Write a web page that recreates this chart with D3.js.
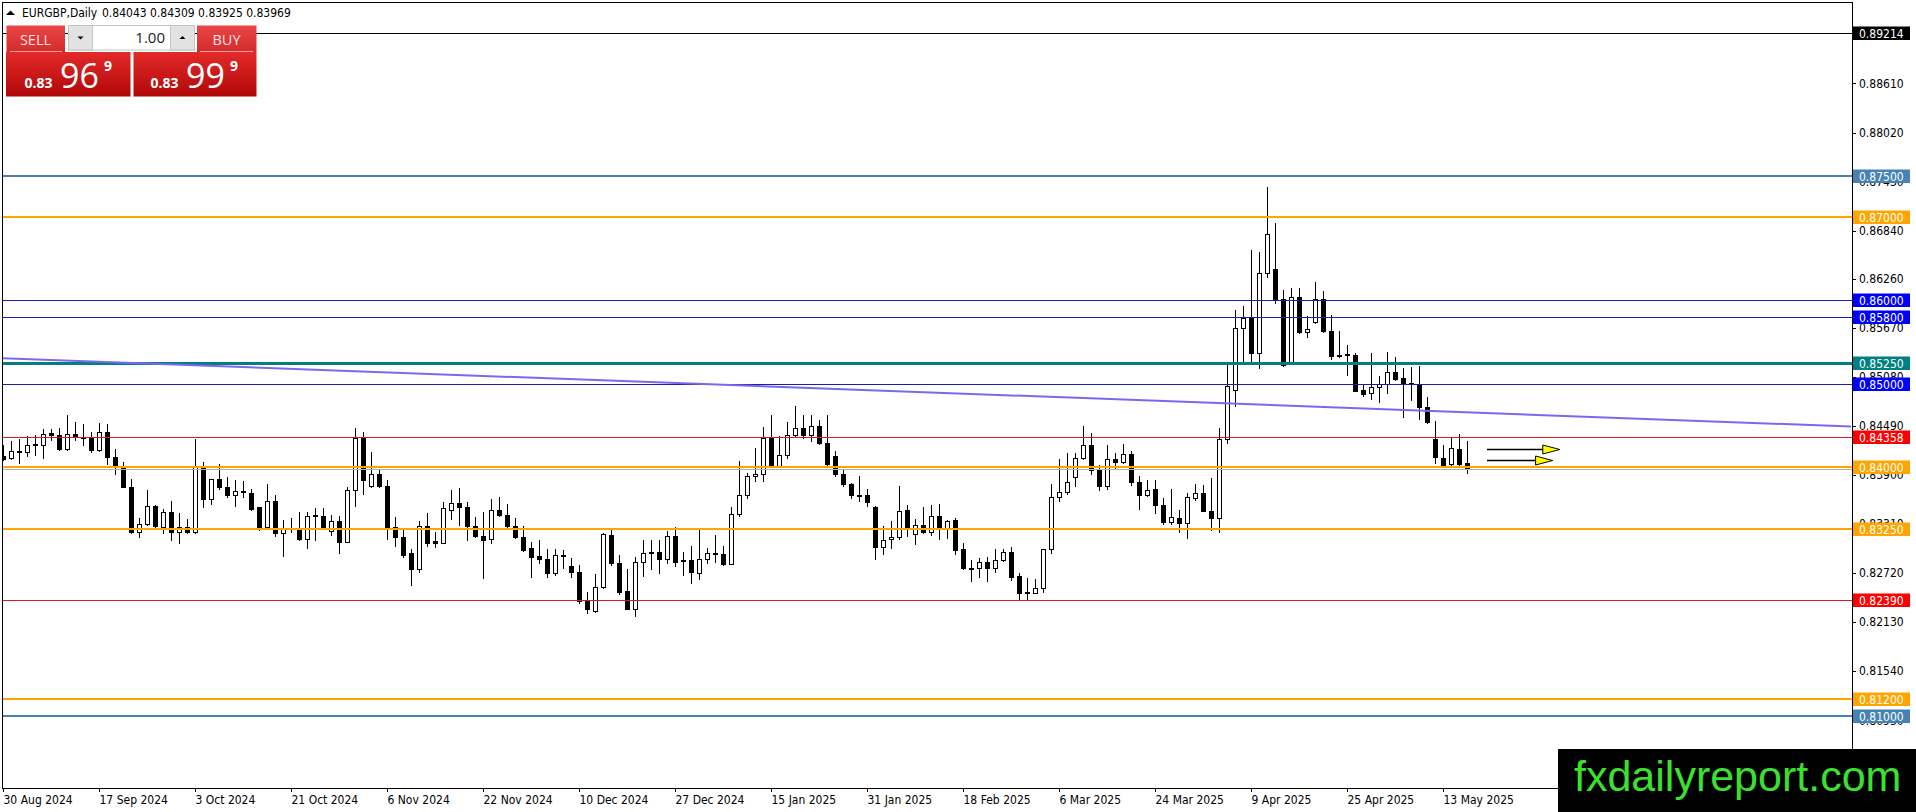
<!DOCTYPE html>
<html>
<head>
<meta charset="utf-8">
<script src="https://cdn.jsdelivr.net/npm/d3@7"></script>
<style>
body { margin: 0; background: #fff; overflow: hidden; }
svg { display: block; }
</style>
</head>
<body>
<svg id="chart"></svg>
<script>
// EURGBP daily bars, 30 Aug 2024 .. 16 May 2025
var opens = [
  0.84125,0.84100,0.84193,0.84177,0.84257,0.84257,0.84402,0.84382,0.84213,0.84394,
  0.84354,0.84358,0.84197,0.84418,0.84117,0.84004,0.83755,0.83212,0.83313,0.83522,
  0.83272,0.83453,0.83212,0.83268,0.83212,0.84004,0.83610,0.83851,0.83755,0.83658,
  0.83711,0.83682,0.83510,0.83268,0.83590,0.83200,0.83264,0.83248,0.83128,0.83413,
  0.83409,0.83228,0.83341,0.83092,0.83719,0.84346,0.83767,0.83916,0.83767,0.83268,
  0.83152,0.82959,0.82766,0.83292,0.83100,0.83087,0.83477,0.83562,0.83514,0.83292,
  0.83168,0.83128,0.83477,0.83417,0.83292,0.83152,0.83019,0.82927,0.82886,0.82718,
  0.82939,0.82806,0.82734,0.82388,0.82267,0.82549,0.83172,0.82838,0.82505,0.82292,
  0.82850,0.82971,0.82971,0.82894,0.83168,0.82878,0.82874,0.82726,0.82886,0.82959,
  0.82951,0.82830,0.83429,0.83658,0.83883,0.83916,0.84350,0.84012,0.84141,0.84382,
  0.84466,0.84382,0.84494,0.84285,0.84133,0.83916,0.83795,0.83662,0.83658,0.83514,
  0.83039,0.83128,0.83156,0.83481,0.83188,0.83297,0.83212,0.83409,0.83260,0.83353,
  0.83011,0.82782,0.82778,0.82850,0.82786,0.82874,0.82971,0.82685,0.82488,0.82484,
  0.82537,0.83007,0.83634,0.83694,0.83875,0.84105,0.84261,0.83964,0.83763,0.84096,
  0.84056,0.84157,0.83815,0.83654,0.83731,0.83538,0.83329,0.83378,0.83317,0.83618,
  0.83686,0.83470,0.83378,0.84328,0.84921,0.85671,0.85792,0.85363,0.86325,0.86377,
  0.86012,0.85250,0.86044,0.85615,0.85735,0.86012,0.85635,0.85343,0.85351,0.85338,
  0.84921,0.84881,0.84961,0.84998,0.85142,0.85062,0.85002,0.84994,0.84721,0.84328,
  0.84099,0.84027,0.84208,0.84043];
var highs = [
  0.84265,0.84310,0.84334,0.84366,0.84386,0.84458,0.84454,0.84466,0.84627,0.84535,
  0.84515,0.84414,0.84527,0.84515,0.84213,0.84060,0.83851,0.83381,0.83715,0.83538,
  0.83485,0.83590,0.83441,0.83373,0.84338,0.84052,0.83855,0.84032,0.83875,0.83835,
  0.83823,0.83731,0.83518,0.83795,0.83658,0.83353,0.83385,0.83453,0.83449,0.83502,
  0.83502,0.83421,0.83401,0.83755,0.84466,0.84422,0.84181,0.83964,0.83843,0.83389,
  0.83240,0.83007,0.83341,0.83441,0.83208,0.83570,0.83723,0.83743,0.83574,0.83393,
  0.83453,0.83610,0.83634,0.83545,0.83381,0.83288,0.83092,0.83120,0.83007,0.83007,
  0.82999,0.82899,0.82818,0.82497,0.82710,0.83200,0.83260,0.82939,0.82770,0.82919,
  0.83120,0.83120,0.83120,0.83228,0.83272,0.82971,0.83051,0.83248,0.83019,0.83172,
  0.83051,0.83510,0.84064,0.83924,0.84225,0.84478,0.84619,0.84374,0.84535,0.84728,
  0.84619,0.84627,0.84567,0.84619,0.84193,0.83964,0.83803,0.83891,0.83735,0.83522,
  0.83280,0.83349,0.83771,0.83538,0.83369,0.83514,0.83538,0.83550,0.83361,0.83381,
  0.83079,0.82878,0.82899,0.82919,0.83007,0.83011,0.83039,0.82726,0.82657,0.82645,
  0.83015,0.83795,0.84092,0.84165,0.84165,0.84486,0.84406,0.84020,0.84261,0.84165,
  0.84277,0.84185,0.83883,0.83843,0.83835,0.83622,0.83731,0.83478,0.83686,0.83787,
  0.83779,0.83859,0.84460,0.85222,0.85884,0.85932,0.86606,0.86578,0.87368,0.86934,
  0.86124,0.86144,0.86144,0.85812,0.86217,0.86112,0.85824,0.85635,0.85463,0.85363,
  0.84982,0.85371,0.85090,0.85383,0.85316,0.85182,0.85202,0.85210,0.84841,0.84553,
  0.84256,0.84344,0.84388,0.84309];
var lows = [
  0.84084,0.84092,0.84044,0.84125,0.84145,0.84105,0.84318,0.84205,0.84197,0.84326,
  0.84265,0.84173,0.84185,0.84036,0.83916,0.83750,0.83200,0.83152,0.83301,0.83260,
  0.83200,0.83120,0.83087,0.83200,0.83204,0.83514,0.83546,0.83731,0.83634,0.83522,
  0.83630,0.83473,0.83240,0.83264,0.83160,0.82931,0.83208,0.83120,0.83019,0.83120,
  0.83260,0.83180,0.82967,0.83088,0.83522,0.83674,0.83755,0.83755,0.83128,0.83051,
  0.82911,0.82577,0.82738,0.83047,0.83039,0.83087,0.83373,0.83301,0.83120,0.83152,
  0.82665,0.83079,0.83401,0.83272,0.83140,0.82991,0.82677,0.82838,0.82677,0.82698,
  0.82778,0.82677,0.82364,0.82235,0.82255,0.82537,0.82818,0.82468,0.82283,0.82207,
  0.82690,0.82766,0.82726,0.82846,0.82806,0.82698,0.82605,0.82649,0.82838,0.82858,
  0.82818,0.82826,0.83401,0.83622,0.83823,0.83823,0.84008,0.84008,0.84105,0.84366,
  0.84346,0.84306,0.84277,0.84012,0.83891,0.83771,0.83618,0.83582,0.83522,0.82894,
  0.82955,0.83019,0.83128,0.83168,0.83071,0.83200,0.83180,0.83128,0.83140,0.82951,
  0.82770,0.82629,0.82677,0.82629,0.82738,0.82870,0.82637,0.82396,0.82396,0.82476,
  0.82492,0.82967,0.83582,0.83674,0.83763,0.84092,0.83916,0.83723,0.83731,0.83972,
  0.84044,0.83783,0.83490,0.83650,0.83441,0.83313,0.83305,0.83217,0.83137,0.83598,
  0.83466,0.83237,0.83217,0.84280,0.84729,0.85274,0.85274,0.85182,0.86277,0.85964,
  0.85210,0.85242,0.85603,0.85563,0.85723,0.85623,0.85290,0.85316,0.85102,0.84909,
  0.84853,0.84809,0.84781,0.84881,0.85042,0.84601,0.84801,0.84569,0.84520,0.84039,
  0.84007,0.84019,0.84019,0.83925];
var closes = [
  0.84092,0.84189,0.84177,0.84265,0.84273,0.84394,0.84382,0.84213,0.84394,0.84354,
  0.84342,0.84197,0.84418,0.84117,0.84020,0.83755,0.83208,0.83309,0.83522,0.83280,
  0.83453,0.83212,0.83268,0.83208,0.84004,0.83610,0.83851,0.83751,0.83654,0.83707,
  0.83698,0.83494,0.83268,0.83590,0.83200,0.83248,0.83256,0.83128,0.83409,0.83401,
  0.83268,0.83341,0.83092,0.83719,0.84346,0.83835,0.83916,0.83767,0.83260,0.83152,
  0.82939,0.82766,0.83292,0.83087,0.83087,0.83502,0.83562,0.83514,0.83288,0.83160,
  0.83120,0.83477,0.83413,0.83292,0.83148,0.83003,0.82919,0.82886,0.82718,0.82939,
  0.82927,0.82730,0.82388,0.82283,0.82549,0.83192,0.82838,0.82488,0.82292,0.82850,
  0.82959,0.82959,0.82894,0.83160,0.82858,0.82870,0.82738,0.82886,0.82959,0.82947,
  0.82830,0.83429,0.83658,0.83883,0.83916,0.84350,0.84012,0.84141,0.84382,0.84466,
  0.84382,0.84486,0.84285,0.84036,0.83916,0.83791,0.83654,0.83650,0.83574,0.83039,
  0.83116,0.83156,0.83469,0.83260,0.83297,0.83212,0.83409,0.83260,0.83345,0.82999,
  0.82778,0.82770,0.82850,0.82786,0.82874,0.82971,0.82677,0.82476,0.82476,0.82537,
  0.83007,0.83634,0.83694,0.83815,0.84105,0.84261,0.83956,0.83763,0.84092,0.84056,
  0.84157,0.83811,0.83654,0.83723,0.83534,0.83329,0.83389,0.83317,0.83638,0.83686,
  0.83470,0.83378,0.84328,0.84974,0.85671,0.85792,0.85363,0.86325,0.86794,0.86004,
  0.85222,0.86044,0.85623,0.85659,0.86012,0.85635,0.85330,0.85330,0.85338,0.84913,
  0.84873,0.84953,0.84998,0.85142,0.85054,0.85002,0.84990,0.84721,0.84540,0.84111,
  0.84019,0.84220,0.84031,0.83969];

// time axis labels, one every 12 bars
var dateLabels = ["30 Aug 2024","17 Sep 2024","3 Oct 2024","21 Oct 2024","6 Nov 2024",
  "22 Nov 2024","10 Dec 2024","27 Dec 2024","15 Jan 2025","31 Jan 2025","18 Feb 2025",
  "6 Mar 2025","24 Mar 2025","9 Apr 2025","25 Apr 2025","13 May 2025"];
var labelStep = 12;

// price scale ticks
var priceTicks = [0.88610,0.88020,0.87430,0.86840,0.86260,0.85670,0.85080,
  0.84490,0.83900,0.83310,0.82720,0.82130,0.81540,0.80950];

// horizontal levels drawn on the chart
var levels = [0.89214,0.87500,0.87000,0.86000,0.85800,0.85250,0.85000,
  0.84358,0.84000,0.83250,0.82390,0.81200,0.81000];

// trend line (bar index, price) and the two arrows
var trendBars = [-1, 231];
var trendPrices = [0.85309, 0.84483];
var arrowTailBars = [185.5, 185.5];
var arrowTipBars = [194.6, 193.7];
var arrowPrices = [0.84209, 0.84084];

var askPrice = 0.83999;

// styles for each level, same order as levels
var blueLine = "#1c1cae", redLine = "#d41e1e";
var levelStyle = [
  {stroke: "#000000", w: 1, bg: "#000000"},
  {stroke: "#4682b4", w: 2, bg: "#4682b4"},
  {stroke: "#ffa500", w: 2, bg: "#ffa500"},
  {stroke: blueLine, w: 1, bg: "#0000ff"},
  {stroke: blueLine, w: 1, bg: "#0000ff"},
  {stroke: "#008080", w: 3, bg: "#008080"},
  {stroke: blueLine, w: 1, bg: "#0000ff"},
  {stroke: redLine, w: 1, bg: "#ff0000"},
  {stroke: "#ffa500", w: 2, bg: "#ffa500"},
  {stroke: "#ffa500", w: 2, bg: "#ffa500"},
  {stroke: redLine, w: 1, bg: "#ff0000"},
  {stroke: "#ffa500", w: 2, bg: "#ffa500"},
  {stroke: "#4682b4", w: 2, bg: "#4682b4"}
];

var width = 1916, height = 812;
var plotLeft = 2.5, plotTop = 2.5, plotRight = 1852.5, plotBottom = 788.5;
var axisFont = "'DejaVu Sans Condensed', 'DejaVu Sans', sans-serif";

var svg = d3.select("#chart")
  .attr("width", width)
  .attr("height", height)
  .style("font-family", axisFont)
  .style("font-stretch", "condensed");

var n = opens.length;
var x = d3.scaleLinear().domain([0, n - 1]).range([3, 3 + 8 * (n - 1)]);
var y = d3.scaleLinear().domain([0.80134, 0.89590]).range([788, 2]);
var fmt = d3.format(".5f");

function crisp(v) { return Math.round(v) + 0.5; }
function lineY(v, w) { return w % 2 === 1 ? crisp(y(v)) : Math.round(y(v)); }

var defs = svg.append("defs");
defs.append("clipPath").attr("id", "plotclip")
  .append("rect").attr("x", 3).attr("y", 3).attr("width", 1849).attr("height", 785);

// frame
svg.append("path")
  .attr("d", "M" + plotRight + "," + plotTop + "H" + plotLeft + "V" + plotBottom + "H" + plotRight)
  .attr("fill", "none").attr("stroke", "#000").attr("shape-rendering", "crispEdges");

// candles
var bars = d3.range(n).map(function(i) {
  return {i: i, o: opens[i], h: highs[i], l: lows[i], c: closes[i]};
});
var candleG = svg.append("g").attr("clip-path", "url(#plotclip)")
  .attr("shape-rendering", "crispEdges");

candleG.selectAll(".wick").data(bars).enter().append("line")
  .attr("x1", function(d) { return x(d.i) + 0.5; })
  .attr("x2", function(d) { return x(d.i) + 0.5; })
  .attr("y1", function(d) { return Math.round(y(d.h)); })
  .attr("y2", function(d) { return Math.round(y(d.l)) + 1; })
  .attr("stroke", "#000");

candleG.selectAll(".body").data(bars.filter(function(d) {
    return Math.abs(Math.round(y(d.o)) - Math.round(y(d.c))) >= 1; }))
  .enter().append("rect")
  .attr("x", function(d) { return x(d.i) - 1.5; })
  .attr("y", function(d) { return Math.round(y(Math.max(d.o, d.c))) + 0.5; })
  .attr("width", 4)
  .attr("height", function(d) { return Math.abs(Math.round(y(d.o)) - Math.round(y(d.c))); })
  .attr("fill", function(d) { return d.c >= d.o ? "#fff" : "#000"; })
  .attr("stroke", "#000");

candleG.selectAll(".doji").data(bars.filter(function(d) {
    return Math.abs(Math.round(y(d.o)) - Math.round(y(d.c))) < 1; }))
  .enter().append("line")
  .attr("x1", function(d) { return x(d.i) - 2; })
  .attr("x2", function(d) { return x(d.i) + 3; })
  .attr("y1", function(d) { return crisp(y(d.c)); })
  .attr("y2", function(d) { return crisp(y(d.c)); })
  .attr("stroke", "#000");

// objects over the bars
var objG = svg.append("g").attr("clip-path", "url(#plotclip)");

objG.append("line")
  .attr("x1", plotLeft).attr("x2", plotRight)
  .attr("y1", crisp(y(closes[n - 1]))).attr("y2", crisp(y(closes[n - 1])))
  .attr("stroke", "#b4b4a4").attr("shape-rendering", "crispEdges");

objG.selectAll(".level").data(levels).enter().append("line")
  .attr("x1", plotLeft).attr("x2", plotRight)
  .attr("y1", function(d, i) { return lineY(d, levelStyle[i].w); })
  .attr("y2", function(d, i) { return lineY(d, levelStyle[i].w); })
  .attr("stroke", function(d, i) { return levelStyle[i].stroke; })
  .attr("stroke-width", function(d, i) { return levelStyle[i].w; })
  .attr("shape-rendering", "crispEdges");

objG.append("line")
  .attr("x1", x(trendBars[0])).attr("y1", y(trendPrices[0]))
  .attr("x2", x(trendBars[1])).attr("y2", y(trendPrices[1]))
  .attr("stroke", "#7b68ee").attr("stroke-width", 2);

arrowPrices.forEach(function(p, k) {
  var ay = crisp(y(p)), tip = x(arrowTipBars[k]), tail = x(arrowTailBars[k]);
  objG.append("line")
    .attr("x1", tail).attr("x2", tip - 17).attr("y1", ay).attr("y2", ay)
    .attr("stroke", "#000").attr("stroke-width", 1.6);
  objG.append("path")
    .attr("d", "M" + (tip - 17) + "," + (ay - 4.5) + "L" + tip + "," + ay + "L" + (tip - 17) + "," + (ay + 4.5) + "Z")
    .attr("fill", "#ffff00").attr("stroke", "#000").attr("stroke-width", 1);
});

// price axis
var yAxis = svg.append("g")
  .attr("transform", "translate(1852,0)")
  .call(d3.axisRight(y).tickValues(priceTicks).tickFormat(fmt).tickSize(4).tickSizeOuter(0));
yAxis.select(".domain").attr("stroke", "#000").attr("shape-rendering", "crispEdges");
yAxis.selectAll(".tick line").attr("shape-rendering", "crispEdges");
yAxis.selectAll("text")
  .attr("x", 7)
  .style("font-family", axisFont).style("font-size", "12px").attr("fill", "#000");

// level labels on the price axis
var lab = svg.append("g");
levels.forEach(function(v, i) {
  var cy = y(v);
  lab.append("rect")
    .attr("x", 1853).attr("y", Math.round(cy) - 6.5)
    .attr("width", 57).attr("height", 13.5)
    .attr("fill", levelStyle[i].bg);
  lab.append("text")
    .attr("x", 1859).attr("y", Math.round(cy) + 4.5)
    .attr("fill", "#fff")
    .style("font-size", "12px")
    .text(fmt(v));
});

// time axis
var xAxis = svg.append("g")
  .attr("transform", "translate(0,788)")
  .call(d3.axisBottom(x)
    .tickValues(dateLabels.map(function(d, k) { return k * labelStep; }))
    .tickFormat(function(d) { return dateLabels[d / labelStep]; })
    .tickSize(4));
xAxis.select(".domain").remove();
xAxis.selectAll(".tick line").attr("shape-rendering", "crispEdges");
xAxis.selectAll("text")
  .attr("text-anchor", "start").attr("x", 0).attr("y", 16).attr("dy", 0)
  .style("font-family", axisFont).style("font-size", "12px").attr("fill", "#000");

// chart header
svg.append("path").attr("d", "M6,15L10.5,10.5L15,15Z").attr("fill", "#000");
svg.append("text").attr("x", 22).attr("y", 16.5).style("font-size", "12px")
  .text("EURGBP,Daily");
svg.append("text").attr("x", 102).attr("y", 16.5).style("font-size", "12px")
  .text([opens[n - 1], highs[n - 1], lows[n - 1], closes[n - 1]].map(fmt).join(" "));

// one click trading panel
var grad = defs.append("linearGradient").attr("id", "priceGrad")
  .attr("x1", 0).attr("y1", 0).attr("x2", 0).attr("y2", 1);
grad.append("stop").attr("offset", "0%").attr("stop-color", "#e42a2a");
grad.append("stop").attr("offset", "100%").attr("stop-color", "#b00808");
var grad2 = defs.append("linearGradient").attr("id", "btnGrad")
  .attr("x1", 0).attr("y1", 0).attr("x2", 0).attr("y2", 1);
grad2.append("stop").attr("offset", "0%").attr("stop-color", "#ea4646");
grad2.append("stop").attr("offset", "100%").attr("stop-color", "#d42a2a");

var panel = svg.append("g").style("font-family", "'Open Sans', 'DejaVu Sans', sans-serif")
  .style("font-stretch", "normal");

panel.append("rect").attr("x", 6).attr("y", 52).attr("width", 124.5).attr("height", 44.5).attr("fill", "url(#priceGrad)");
panel.append("rect").attr("x", 133.5).attr("y", 52).attr("width", 123).attr("height", 44.5).attr("fill", "url(#priceGrad)");
panel.append("rect").attr("x", 6.5).attr("y", 25.5).attr("width", 58.5).attr("height", 26.5).attr("fill", "url(#btnGrad)");
panel.append("rect").attr("x", 197).attr("y", 25.5).attr("width", 59.5).attr("height", 26.5).attr("fill", "url(#btnGrad)");
panel.append("line").attr("x1", 10).attr("x2", 62).attr("y1", 51.5).attr("y2", 51.5).attr("stroke", "#f3a0a0");
panel.append("line").attr("x1", 200).attr("x2", 253).attr("y1", 51.5).attr("y2", 51.5).attr("stroke", "#f3a0a0");

// lot size control
panel.append("rect").attr("x", 68.5).attr("y", 25.5).attr("width", 126).attr("height", 24.5)
  .attr("fill", "#fff").attr("stroke", "#c4c4c4");
panel.append("rect").attr("x", 68.5).attr("y", 25.5).attr("width", 24).attr("height", 24.5)
  .attr("fill", "#e2e2e2").attr("stroke", "#c4c4c4");
panel.append("rect").attr("x", 170.5).attr("y", 25.5).attr("width", 24).attr("height", 24.5)
  .attr("fill", "#e2e2e2").attr("stroke", "#c4c4c4");
panel.append("path").attr("d", "M77.5,36.5H83.5L80.5,39.5Z").attr("fill", "#000");
panel.append("path").attr("d", "M179.5,39H185.5L182.5,36Z").attr("fill", "#000");
panel.append("text").attr("x", 165).attr("y", 43).attr("text-anchor", "end")
  .style("font-size", "15px").attr("fill", "#222").text("1.00");

panel.append("text").attr("x", 35.5).attr("y", 45).attr("text-anchor", "middle")
  .style("font-size", "14.5px").attr("fill", "#ffe2e2").text("SELL");
panel.append("text").attr("x", 226.5).attr("y", 45).attr("text-anchor", "middle")
  .style("font-size", "14.5px").attr("fill", "#ffe2e2").text("BUY");

function priceParts(p) {
  var s = fmt(p);
  return [s.slice(0, 4), s.slice(4, 6), s.slice(6)];
}
[[closes[n - 1], 24.5], [askPrice, 150.5]].forEach(function(q) {
  var parts = priceParts(q[0]), px = q[1];
  panel.append("text").attr("x", px).attr("y", 87.5)
    .style("font-size", "14px").style("font-weight", "bold").attr("fill", "#fff").text(parts[0]);
  panel.append("text").attr("x", px + 35.5).attr("y", 87.5)
    .style("font-size", "34px").attr("fill", "#fff").text(parts[1]);
  panel.append("text").attr("x", px + 79.5).attr("y", 70.5)
    .style("font-size", "14px").style("font-weight", "bold").attr("fill", "#fff").text(parts[2]);
});

// watermark
svg.append("rect").attr("x", 1558).attr("y", 749).attr("width", 358).attr("height", 63).attr("fill", "#000");
svg.append("text").attr("x", 1574).attr("y", 790.5)
  .style("font-family", "'Liberation Sans', Arial, sans-serif").style("font-stretch", "normal")
  .style("font-size", "43px").attr("fill", "#3ae12e").text("fxdailyreport.com");
</script>
</body>
</html>
